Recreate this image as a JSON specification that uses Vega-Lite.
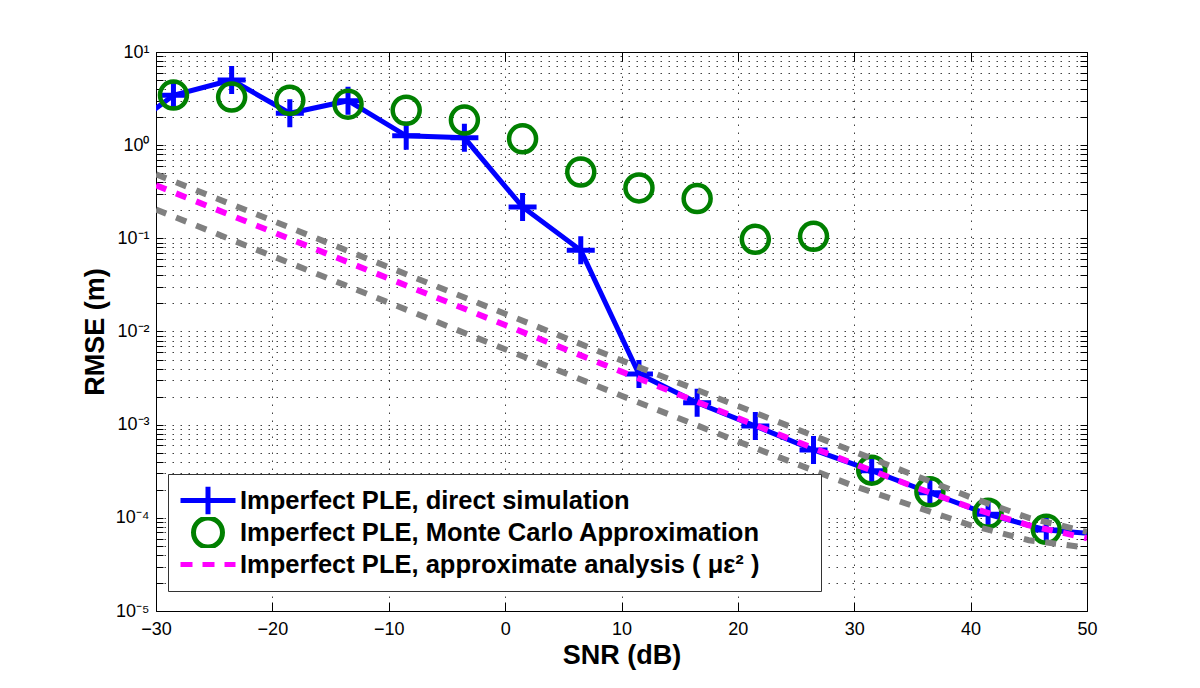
{
  "$schema": "https://vega.github.io/schema/vega-lite/v6.json",
  "autosize": {"type": "none"},
  "padding": {"left": 156, "top": 52, "right": 113, "bottom": 77},
  "width": 931,
  "height": 559,
  "background": "white",
  "config": {
    "view": {"stroke": "#000", "strokeWidth": 1},
    "font": "Liberation Sans",
    "axis": {"labelColor": "#000", "titleColor": "#000", "tickColor": "#000", "domainColor": "#000", "labelFont": "Liberation Sans", "titleFont": "Liberation Sans"}
  },
  "datasets": {
    "sim": [
      {"snr": -33.5, "rmse": 1.17, "series": "Imperfect PLE, direct simulation"},
      {"snr": -28.5, "rmse": 3.43, "series": "Imperfect PLE, direct simulation"},
      {"snr": -23.5, "rmse": 5.0, "series": "Imperfect PLE, direct simulation"},
      {"snr": -18.5, "rmse": 2.2, "series": "Imperfect PLE, direct simulation"},
      {"snr": -13.5, "rmse": 3.0, "series": "Imperfect PLE, direct simulation"},
      {"snr": -8.5, "rmse": 1.26, "series": "Imperfect PLE, direct simulation"},
      {"snr": -3.5, "rmse": 1.2, "series": "Imperfect PLE, direct simulation"},
      {"snr": 1.5, "rmse": 0.217, "series": "Imperfect PLE, direct simulation"},
      {"snr": 6.5, "rmse": 0.0744, "series": "Imperfect PLE, direct simulation"},
      {"snr": 11.5, "rmse": 0.00349, "series": "Imperfect PLE, direct simulation"},
      {"snr": 16.5, "rmse": 0.00172, "series": "Imperfect PLE, direct simulation"},
      {"snr": 21.5, "rmse": 0.000966, "series": "Imperfect PLE, direct simulation"},
      {"snr": 26.5, "rmse": 0.000535, "series": "Imperfect PLE, direct simulation"},
      {"snr": 31.5, "rmse": 0.000321, "series": "Imperfect PLE, direct simulation"},
      {"snr": 36.5, "rmse": 0.000186, "series": "Imperfect PLE, direct simulation"},
      {"snr": 41.5, "rmse": 0.000109, "series": "Imperfect PLE, direct simulation"},
      {"snr": 46.5, "rmse": 0.0000741, "series": "Imperfect PLE, direct simulation"},
      {"snr": 51.5, "rmse": 0.000066, "series": "Imperfect PLE, direct simulation"}
    ],
    "mc": [
      {"snr": -28.5, "rmse": 3.45, "series": "Imperfect PLE, Monte Carlo Approximation"},
      {"snr": -23.5, "rmse": 3.28, "series": "Imperfect PLE, Monte Carlo Approximation"},
      {"snr": -18.5, "rmse": 3.03, "series": "Imperfect PLE, Monte Carlo Approximation"},
      {"snr": -13.5, "rmse": 2.75, "series": "Imperfect PLE, Monte Carlo Approximation"},
      {"snr": -8.5, "rmse": 2.37, "series": "Imperfect PLE, Monte Carlo Approximation"},
      {"snr": -3.5, "rmse": 1.86, "series": "Imperfect PLE, Monte Carlo Approximation"},
      {"snr": 1.5, "rmse": 1.17, "series": "Imperfect PLE, Monte Carlo Approximation"},
      {"snr": 6.5, "rmse": 0.515, "series": "Imperfect PLE, Monte Carlo Approximation"},
      {"snr": 11.5, "rmse": 0.348, "series": "Imperfect PLE, Monte Carlo Approximation"},
      {"snr": 16.5, "rmse": 0.267, "series": "Imperfect PLE, Monte Carlo Approximation"},
      {"snr": 21.5, "rmse": 0.0977, "series": "Imperfect PLE, Monte Carlo Approximation"},
      {"snr": 26.5, "rmse": 0.105, "series": "Imperfect PLE, Monte Carlo Approximation"},
      {"snr": 31.5, "rmse": 0.000325, "series": "Imperfect PLE, Monte Carlo Approximation"},
      {"snr": 36.5, "rmse": 0.00019, "series": "Imperfect PLE, Monte Carlo Approximation"},
      {"snr": 41.5, "rmse": 0.000112, "series": "Imperfect PLE, Monte Carlo Approximation"},
      {"snr": 46.5, "rmse": 0.0000753, "series": "Imperfect PLE, Monte Carlo Approximation"}
    ],
    "approx": [
      {"snr": -30, "rmse": 0.3707, "series": "Imperfect PLE, approximate analysis ( με² )"},
      {"snr": -20, "rmse": 0.1172, "series": "Imperfect PLE, approximate analysis ( με² )"},
      {"snr": -10, "rmse": 0.03707, "series": "Imperfect PLE, approximate analysis ( με² )"},
      {"snr": 0, "rmse": 0.01172, "series": "Imperfect PLE, approximate analysis ( με² )"},
      {"snr": 10, "rmse": 0.003707, "series": "Imperfect PLE, approximate analysis ( με² )"},
      {"snr": 20, "rmse": 0.001175, "series": "Imperfect PLE, approximate analysis ( με² )"},
      {"snr": 25, "rmse": 0.000661, "series": "Imperfect PLE, approximate analysis ( με² )"},
      {"snr": 30, "rmse": 0.00038, "series": "Imperfect PLE, approximate analysis ( με² )"},
      {"snr": 35, "rmse": 0.000219, "series": "Imperfect PLE, approximate analysis ( με² )"},
      {"snr": 40, "rmse": 0.000129, "series": "Imperfect PLE, approximate analysis ( με² )"},
      {"snr": 45, "rmse": 0.0000832, "series": "Imperfect PLE, approximate analysis ( με² )"},
      {"snr": 50, "rmse": 0.0000603, "series": "Imperfect PLE, approximate analysis ( με² )"}
    ],
    "bounds": [
      {"snr": -30, "rmse": 0.4864, "bound": "upper"},
      {"snr": -20, "rmse": 0.1549, "bound": "upper"},
      {"snr": -10, "rmse": 0.04898, "bound": "upper"},
      {"snr": 0, "rmse": 0.01549, "bound": "upper"},
      {"snr": 10, "rmse": 0.004898, "bound": "upper"},
      {"snr": 20, "rmse": 0.001585, "bound": "upper"},
      {"snr": 30, "rmse": 0.000513, "bound": "upper"},
      {"snr": 40, "rmse": 0.000166, "bound": "upper"},
      {"snr": 45, "rmse": 0.0001, "bound": "upper"},
      {"snr": 50, "rmse": 0.0000708, "bound": "upper"},
      {"snr": -30, "rmse": 0.2037, "bound": "lower"},
      {"snr": -20, "rmse": 0.06457, "bound": "lower"},
      {"snr": -10, "rmse": 0.02042, "bound": "lower"},
      {"snr": 0, "rmse": 0.006457, "bound": "lower"},
      {"snr": 10, "rmse": 0.002042, "bound": "lower"},
      {"snr": 20, "rmse": 0.000661, "bound": "lower"},
      {"snr": 30, "rmse": 0.000219, "bound": "lower"},
      {"snr": 40, "rmse": 0.0000832, "bound": "lower"},
      {"snr": 45, "rmse": 0.0000575, "bound": "lower"},
      {"snr": 50, "rmse": 0.0000479, "bound": "lower"}
    ]
  },
  "resolve": {"axis": {"x": "independent", "y": "independent"}},
  "layer": [
    {
      "data": {"name": "sim"},
      "mark": {"type": "line", "strokeWidth": 5, "clip": true},
      "encoding": {
        "x": {"field": "snr", "type": "quantitative", "scale": {"domain": [-30, 50], "nice": false, "zero": false}, "axis": null},
        "y": {"field": "rmse", "type": "quantitative", "scale": {"type": "log", "domain": [0.00001, 10], "nice": false}, "axis": null},
        "color": {
          "field": "series", "type": "nominal",
          "scale": {
            "domain": ["Imperfect PLE, direct simulation", "Imperfect PLE, Monte Carlo Approximation", "Imperfect PLE, approximate analysis ( με² )"],
            "range": ["#0000ff", "#008000", "#ff00ff"]
          },
          "legend": {
            "orient": "none", "legendX": 12, "legendY": 422, "direction": "vertical", "title": null,
            "strokeColor": "#333", "fillColor": "white", "padding": 11, "cornerRadius": 0,
            "symbolSize": 676, "symbolStrokeWidth": 5, "symbolOffset": 13.5, "labelOffset": 16.5, "rowPadding": 1, "clipHeight": 31,
            "labelFont": "Liberation Sans", "labelFontWeight": "bold", "labelFontSize": 25.5, "labelColor": "#000", "labelLimit": 0,
            "labelExpr": "datum.label + '\u00a0\u00a0\u00a0\u00a0\u00a0\u00a0\u00a0\u200b'",
            "encode": {
              "symbols": {
                "update": {
                  "shape": {"signal": "datum.value === 'Imperfect PLE, direct simulation' ? 'M-2.115,0H2.115M0,-1.06V1.06' : datum.value === 'Imperfect PLE, Monte Carlo Approximation' ? 'M-1.115,0A1.115,1.115,0,1,0,1.115,0A1.115,1.115,0,1,0,-1.115,0Z' : 'M-2.115,0H2.115'"},
                  "size": {"value": 676},
                  "stroke": {"scale": "color", "field": "value"},
                  "fill": {"value": "transparent"},
                  "strokeWidth": {"value": 5},
                  "strokeDash": {"signal": "datum.value === 'Imperfect PLE, approximate analysis ( με² )' ? [12, 10] : []"},
                  "opacity": {"value": 1}
                }
              }
            }
          }
        }
      }
    },
    {
      "data": {"name": "sim"},
      "mark": {"type": "point", "shape": "M-1,0H1M0,-1V1", "size": 784, "filled": false, "strokeWidth": 5, "opacity": 1, "clip": true},
      "encoding": {
        "x": {"field": "snr", "type": "quantitative", "axis": null},
        "y": {"field": "rmse", "type": "quantitative", "axis": null},
        "color": {"field": "series", "type": "nominal"}
      }
    },
    {
      "data": {"name": "mc"},
      "mark": {"type": "point", "shape": "circle", "size": 729, "filled": false, "strokeWidth": 4.5, "opacity": 1, "clip": true},
      "encoding": {
        "x": {"field": "snr", "type": "quantitative", "axis": null},
        "y": {"field": "rmse", "type": "quantitative", "axis": null},
        "color": {"field": "series", "type": "nominal"}
      }
    },
    {
      "data": {"name": "approx"},
      "mark": {"type": "line", "strokeWidth": 6, "strokeDash": [11, 10.6], "strokeCap": "butt", "clip": true},
      "encoding": {
        "x": {"field": "snr", "type": "quantitative",
          "axis": {"orient": "top", "values": [-30, -20, -10, 0, 10, 20, 30, 40, 50], "labels": false, "tickSize": -9, "grid": false, "domain": false, "title": null}},
        "y": {"field": "rmse", "type": "quantitative",
          "axis": {"orient": "right", "values": [0.00001, 0.00002, 0.00003, 0.00004, 0.00005, 0.00006, 0.00007, 0.00008, 0.00009, 0.0001, 0.0002, 0.0003, 0.0004, 0.0005, 0.0006, 0.0007, 0.0008, 0.0009, 0.001, 0.002, 0.003, 0.004, 0.005, 0.006, 0.007, 0.008, 0.009, 0.01, 0.02, 0.03, 0.04, 0.05, 0.06, 0.07, 0.08, 0.09, 0.1, 0.2, 0.3, 0.4, 0.5, 0.6, 0.7, 0.8, 0.9, 1, 2, 3, 4, 5, 6, 7, 8, 9, 10], "labels": false, "tickSize": -7, "grid": false, "domain": false, "title": null}},
        "color": {"field": "series", "type": "nominal"}
      }
    },
    {
      "data": {"name": "bounds"},
      "mark": {"type": "line", "strokeWidth": 6, "strokeDash": [11, 10.6], "strokeCap": "butt", "color": "#808080", "clip": true},
      "encoding": {
        "x": {"field": "snr", "type": "quantitative",
          "axis": {"orient": "bottom", "values": [-30, -20, -10, 0, 10, 20, 30, 40, 50], "tickSize": -9, "labelPadding": 18, "labelFontSize": 18, "labelFlush": false, "labelOverlap": false,
            "grid": true, "gridColor": "#000", "gridOpacity": 0.75, "gridDash": [1.5, 6.5], "gridWidth": 1, "domain": false,
            "title": "SNR (dB)", "titleFontSize": 27, "titleFontWeight": "bold", "titlePadding": 4}},
        "y": {"field": "rmse", "type": "quantitative",
          "axis": {"orient": "left", "values": [0.00001, 0.00002, 0.00003, 0.00004, 0.00005, 0.00006, 0.00007, 0.00008, 0.00009, 0.0001, 0.0002, 0.0003, 0.0004, 0.0005, 0.0006, 0.0007, 0.0008, 0.0009, 0.001, 0.002, 0.003, 0.004, 0.005, 0.006, 0.007, 0.008, 0.009, 0.01, 0.02, 0.03, 0.04, 0.05, 0.06, 0.07, 0.08, 0.09, 0.1, 0.2, 0.3, 0.4, 0.5, 0.6, 0.7, 0.8, 0.9, 1, 2, 3, 4, 5, 6, 7, 8, 9, 10],
            "labelExpr": "datum.value == 10 ? '10¹' : datum.value == 1 ? '10⁰' : datum.value == 0.1 ? '10⁻¹' : datum.value == 0.01 ? '10⁻²' : datum.value == 0.001 ? '10⁻³' : datum.value == 0.0001 ? '10⁻⁴' : datum.value == 0.00001 ? '10⁻⁵' : ''",
            "tickSize": -7, "labelPadding": 14, "labelFontSize": 18, "labelOverlap": false, "labelFlush": false, "labelBound": false,
            "grid": true, "gridColor": "#000", "gridOpacity": 0.75, "gridDash": [1.5, 6.5], "gridWidth": 1, "domain": false,
            "title": "RMSE (m)", "titleFontSize": 27, "titleFontWeight": "bold", "titlePadding": 6}},
        "detail": {"field": "bound", "type": "nominal"}
      }
    }
  ]
}
